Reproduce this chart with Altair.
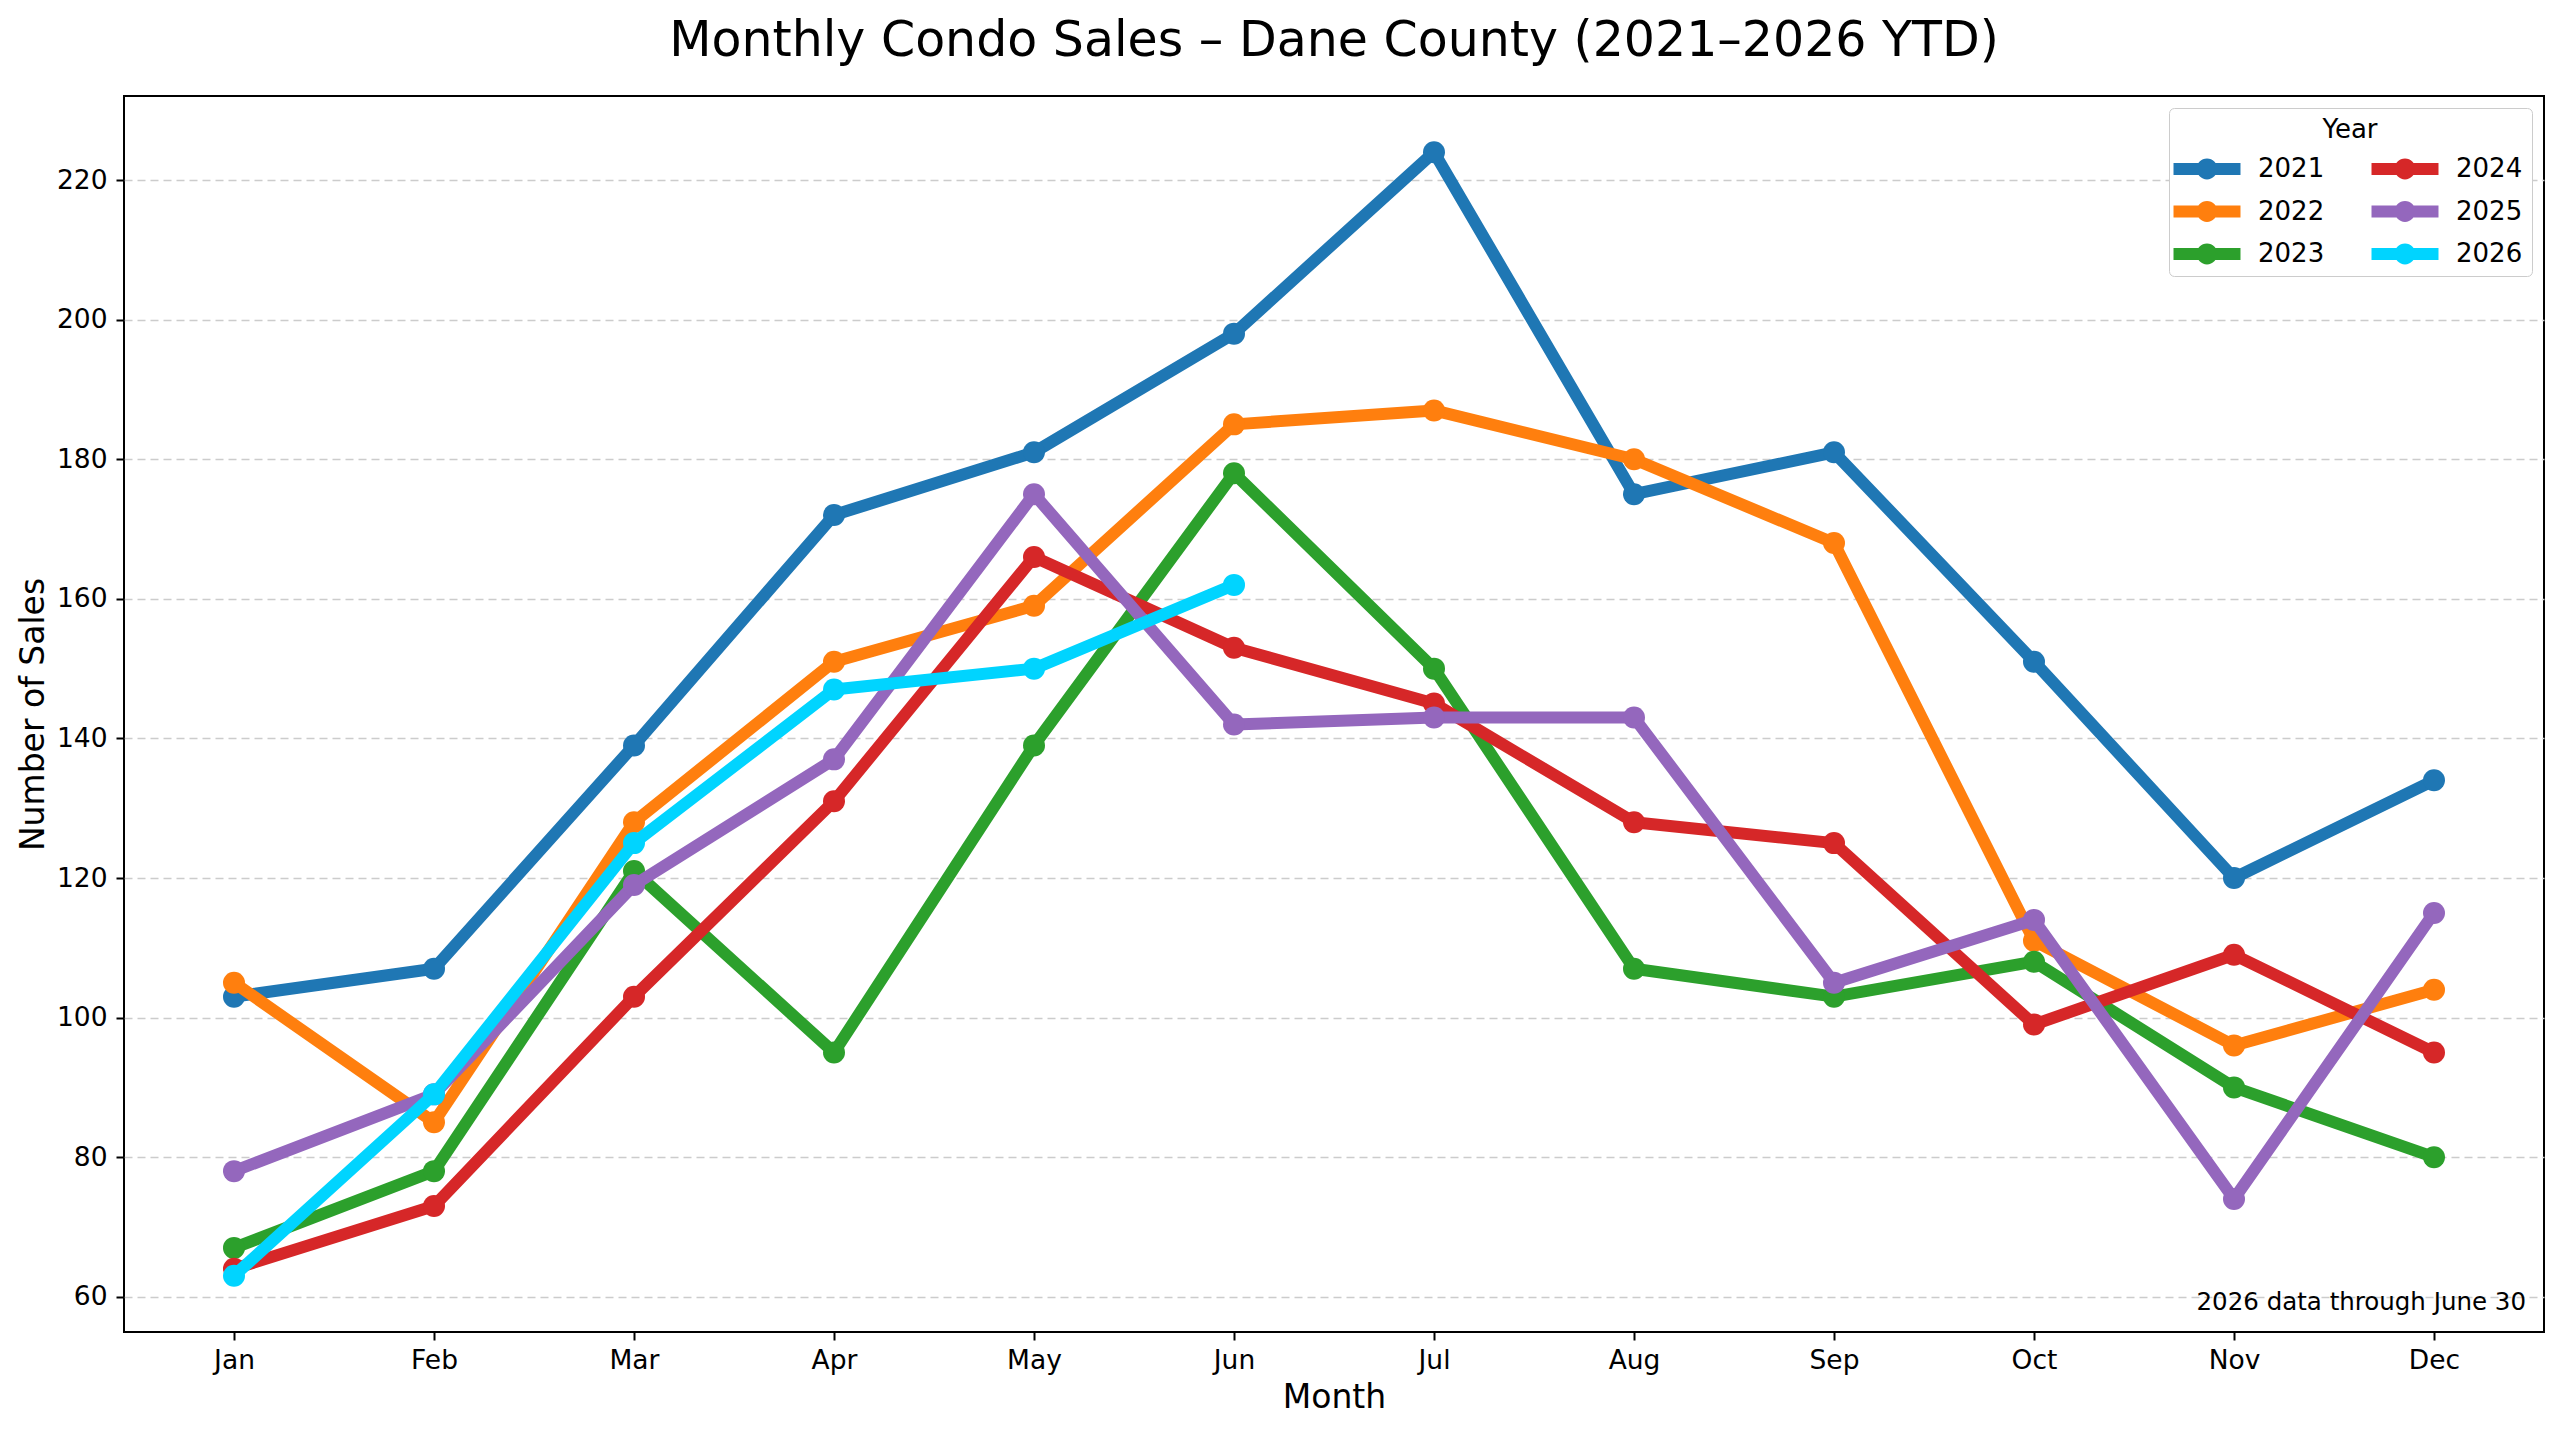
import altair as alt
import pandas as pd

months = ["Jan", "Feb", "Mar", "Apr", "May", "Jun", "Jul", "Aug", "Sep", "Oct", "Nov", "Dec"]
years = ["2021", "2022", "2023", "2024", "2025", "2026"]
colors = ["#1f77b4", "#ff7f0e", "#2ca02c", "#d62728", "#9467bd", "#00d4ff"]

sales_2021 = [103, 107, 139, 172, 181, 198, 224, 175, 181, 151, 120, 134]
sales_2022 = [105, 85, 128, 151, 159, 185, 187, 180, 168, 111, 96, 104]
sales_2023 = [67, 78, 121, 95, 139, 178, 150, 107, 103, 108, 90, 80]
sales_2024 = [64, 73, 103, 131, 166, 153, 145, 128, 125, 99, 109, 95]
sales_2025 = [78, 89, 119, 137, 175, 142, 143, 143, 105, 114, 74, 115]
sales_2026 = [63, 89, 125, 147, 150, 162]

y_ticks = [60, 80, 100, 120, 140, 160, 180, 200, 220]
title_text = "Monthly Condo Sales \u2013 Dane County (2021\u20132026 YTD)"
note_text = "2026 data through June 30"

series = [sales_2021, sales_2022, sales_2023, sales_2024, sales_2025, sales_2026]
rows = []
for yr, vals in zip(years, series):
    for m, v in zip(months, vals):
        rows.append({"Year": yr, "Month": m, "Sales": v})
df = pd.DataFrame(rows)

cscale = alt.Scale(domain=years, range=colors)

W, H = 2420, 1236
FONT = "DejaVu Sans"

sym_path = ("M-2,-0.36L2,-0.36L2,0.36L-2,0.36Z "
            "M0.62,0A0.62,0.62 0 1 1 -0.62,0A0.62,0.62 0 1 1 0.62,0Z")

leg = alt.Legend(
    title="Year", orient="none", legendX=2045, legendY=12, columns=2,
    symbolType=sym_path, symbolSize=1122, symbolStrokeWidth=0, symbolOpacity=1,
    symbolOffset=12, labelOffset=34, labelFontSize=26, titleFontSize=26,
    titleFontWeight="normal", titleAnchor="middle", titleColor="black",
    labelColor="black", padding=9, strokeColor="#cccccc", fillColor="white",
    cornerRadius=5, rowPadding=12.5, columnPadding=46, titlePadding=9, labelFont=FONT,
    titleFont=FONT,
)

x_enc = alt.X("Month:O", sort=months,
              scale=alt.Scale(type="point", padding=0.55),
              axis=alt.Axis(title="Month", labelAngle=0, grid=False))
y_enc = alt.Y("Sales:Q",
              scale=alt.Scale(domain=[54.95, 232.05], nice=False, zero=False),
              axis=alt.Axis(title="Number of Sales", values=y_ticks, grid=True,
                            gridDash=[8, 5], gridColor="#cccccc", gridWidth=1.5,
                            titlePadding=6))
color_enc = alt.Color("Year:N", scale=cscale, legend=leg)

base = alt.Chart(df)
layers = []
for yr in years:
    b = base.transform_filter(alt.datum.Year == yr)
    line = b.mark_line(strokeWidth=12, strokeJoin="round", strokeCap="round").encode(
        x=x_enc, y=y_enc, color=color_enc)
    pts = b.mark_point(filled=True, size=484, opacity=1).encode(
        x=x_enc, y=y_enc, color=color_enc)
    layers += [line, pts]

note = alt.Chart(pd.DataFrame({"note": [note_text]})).mark_text(
    align="right", baseline="alphabetic", fontSize=24.5, font=FONT, color="black"
).encode(x=alt.value(W - 18), y=alt.value(H - 22), text="note:N")
layers.append(note)

title = alt.Chart(pd.DataFrame({"title": [title_text]})).mark_text(
    align="center", baseline="alphabetic", fontSize=49, font=FONT, color="black"
).encode(x=alt.value(W / 2), y=alt.value(-40), text="title:N")
layers.append(title)

chart = alt.layer(*layers).properties(
    width=W, height=H,
    autosize=alt.AutoSizeParams(type="none"),
    padding={"left": 116, "top": 88, "right": 8, "bottom": 91},
).configure_view(stroke="black", strokeWidth=2).configure_axis(
    domain=False, tickColor="black", tickWidth=2, tickSize=8,
    labelFontSize=26.5, titleFontSize=33, labelFont=FONT, titleFont=FONT,
    labelColor="black", titleColor="black", titleFontWeight="normal",
    labelPadding=8,
).configure_axisX(titlePadding=8, labelPadding=7).configure_axisY(labelPadding=9)

chart.save("out.html", embed_options={"renderer": "svg", "actions": False})
